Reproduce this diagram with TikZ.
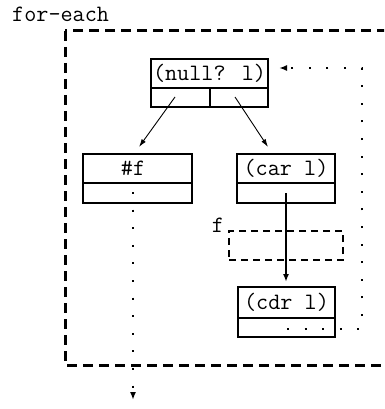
\documentclass[tikz,border=0pt]{standalone}
\usepackage{fontspec}
\usetikzlibrary{arrows.meta}
\begin{document}
\begin{tikzpicture}[x=1pt,y=-1pt,
  txt/.style={font=\ttfamily\fontsize{23.5}{28}\selectfont},
  cell/.style={draw, line width=2pt, inner sep=0pt, outer sep=0pt, txt},
  thinarrow/.style={line width=0.9pt, -{Latex[length=8pt,width=5pt]}},
  thickarrow/.style={line width=1.8pt, -{Latex[length=8pt,width=6pt]}},
  dotline/.style={line width=2pt, dash pattern=on 2pt off 15.6pt, -{Latex[length=8pt,width=6pt]}},
  outerdash/.style={line width=3pt, dash pattern=on 10pt off 6pt},
  innerdash/.style={line width=2pt, dash pattern=on 7pt off 5pt}]
\useasboundingbox (0,0) rectangle (384,409);
\fill[white] (0,0) rectangle (384,409);
\clip (0,0) rectangle (384,409);

% outer frame and label
\node[txt, anchor=base west, inner sep=0pt] (lab) at (12,22) {for-each};
\draw[outerdash] (65,31) rectangle (420,365);

% (null? l)
\node[cell, minimum width=117pt, minimum height=29pt] (nullT) at (209.5,73.5) {(null? l)};
\node[cell, minimum width=59pt, minimum height=19pt] (nullL) at (180.5,97.5) {};
\node[cell, minimum width=58pt, minimum height=19pt] (nullR) at (239,97.5) {};

% #f
\node[cell, minimum width=109pt, minimum height=29pt] (fT) at (137.5,168.5) {\hspace*{-9pt}\#f};
\node[cell, minimum width=109pt, minimum height=20pt] (fB) at (137.5,193) {};

% (car l)
\node[cell, minimum width=98pt, minimum height=29pt] (carT) at (286,168.5) {(car l)};
\node[cell, minimum width=98pt, minimum height=20pt] (carB) at (286,193) {};

% dashed f frame
\node[draw, innerdash, minimum width=114pt, minimum height=29pt, inner sep=0pt, outer sep=0pt] (fframe) at (286,245.5) {};
\node[txt, anchor=base, inner sep=0pt] (flab) at (218,232) {f};

% (cdr l)
\node[cell, minimum width=97pt, minimum height=31pt] (cdrT) at (286.5,302.5) {(cdr l)};
\node[cell, minimum width=97pt, minimum height=19pt] (cdrB) at (286.5,327.5) {};

% connector end points
\coordinate (s1) at (175,97);
\coordinate (e1) at (139,147);
\coordinate (s2) at (235,97);
\coordinate (e2) at (268,147);
\coordinate (s3) at (286,193);
\coordinate (e3) at (286,282);
\coordinate (s4) at (133,192);
\coordinate (e4) at (133,400);
\coordinate (s5) at (287,329);
\coordinate (c5a) at (362,329);
\coordinate (c5b) at (362,68);
\coordinate (e5) at (279,68);

\draw[thinarrow] (s1) -- (e1);
\draw[thinarrow] (s2) -- (e2);
\draw[thickarrow] (s3) -- (e3);
\draw[dotline] (s4) -- (e4);
\draw[dotline] (s5) -- (c5a) -- (c5b) -- (e5);
\end{tikzpicture}
\end{document}
